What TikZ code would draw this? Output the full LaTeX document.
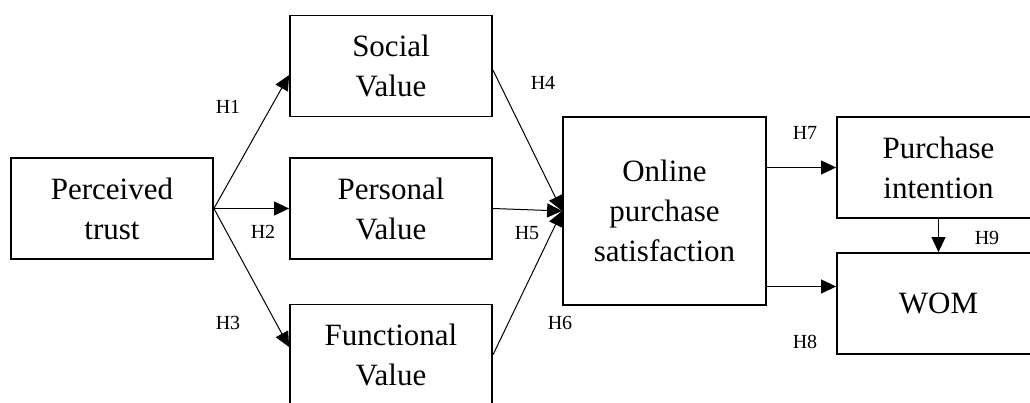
\documentclass[tikz,border=0pt]{standalone}
\usepackage{fontspec}
\setmainfont{Liberation Serif}
\usetikzlibrary{arrows.meta}

\begin{document}
\begin{tikzpicture}
  [x=1pt,y=-1pt,
   box/.style={draw,line width=1.8pt,minimum width=202pt,minimum height=101pt,
     align=center,font=\fontsize{31}{40}\selectfont},
   hyp/.style={font=\fontsize{20}{22}\selectfont,inner sep=0pt},
   arr/.style={line width=1pt,-{Triangle[length=15pt,width=14pt]}}]
  \useasboundingbox (0,0) rectangle (1030,403);
  \clip (0,0) rectangle (1030,403);

  \node[box] (trust) at (112,208.5) {Perceived\\trust};
  \node[box] (social) at (391,66) {Social\\Value};
  \node[box] (personal) at (391,208.5) {Personal\\Value};
  \node[box] (functional) at (391,355) {Functional\\Value};
  \node[box,minimum width=203pt,minimum height=188pt] (online) at (664.5,211) {Online\\purchase\\satisfaction};
  \node[box,minimum width=203pt] (intention) at (938.5,167.5) {Purchase\\intention};
  \node[box,minimum width=203pt] (wom) at (938.5,303.5) {WOM};

  \draw[arr] (trust.east) -- ([yshift=-9pt]social.west);
  \draw[arr] (trust.east) -- (personal.west);
  \draw[arr] (trust.east) -- ([yshift=8pt]functional.west);

  \draw[arr] ([yshift=-4pt]social.east) -- (online.west);
  \draw[arr] (personal.east) -- (online.west);
  \draw[arr] (functional.east) -- (online.west);

  \coordinate (h8) at ([yshift=17pt]wom.west);
  \draw[arr] (online.east |- intention.west) -- (intention.west);
  \draw[arr] (online.east |- h8) -- (h8);
  \draw[arr] (intention.south) -- (wom.north);

  \node[hyp] (h1) at (228,107) {H1};
  \node[hyp] (h2) at (263,232) {H2};
  \node[hyp] (h3) at (228,323) {H3};
  \node[hyp] (h4) at (543,83) {H4};
  \node[hyp] (h5) at (527,233) {H5};
  \node[hyp] (h6) at (560,323) {H6};
  \node[hyp] (h7) at (805,133) {H7};
  \node[hyp] (h8l) at (805,342) {H8};
  \node[hyp] (h9) at (987,238) {H9};

\end{tikzpicture}
\end{document}
